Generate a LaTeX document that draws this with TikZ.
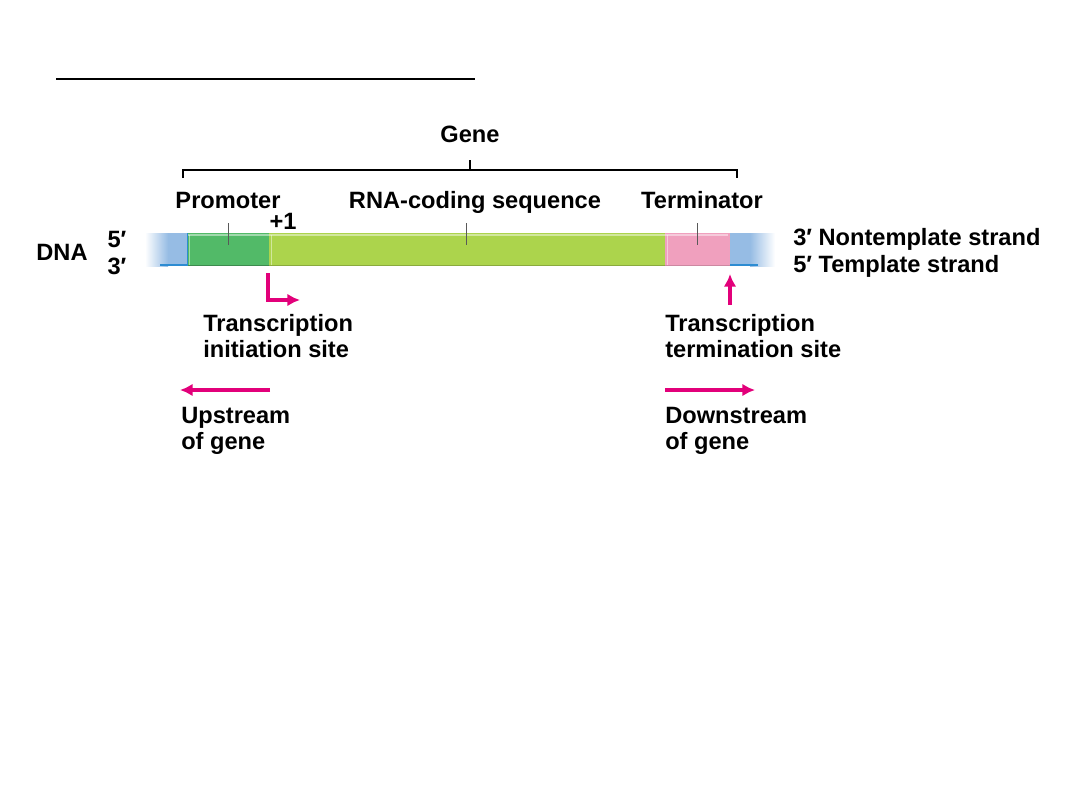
\documentclass[tikz,border=0pt]{standalone}
\usepackage{fontspec}
\setmainfont{Liberation Sans}
\usetikzlibrary{arrows.meta,positioning}

\definecolor{dnablue}{RGB}{150,188,228}
\definecolor{dnaline}{RGB}{45,140,210}
\definecolor{promgreen}{RGB}{82,186,104}
\definecolor{codegreen}{RGB}{172,212,76}
\definecolor{termpink}{RGB}{240,160,190}
\definecolor{sitepink}{RGB}{226,0,122}

\begin{document}
\begin{tikzpicture}[
        x=0.025cm, y=-0.025cm,
        lbl/.style={font=\bfseries\fontsize{16.8}{18.6}\selectfont, inner sep=0pt},
        tick/.style={draw=black!65, line width=0.7pt},
        bracket/.style={black, line width=0.8pt},
        pinkarrow/.style={sitepink, line width=2.6pt, -{Latex[length=9pt, width=9pt]}}
    ]
    \useasboundingbox (0,0) rectangle (1080,810);

    % ==========================================
    % TITLE RULE + GENE BRACKET
    % ==========================================
    \draw[black, line width=1.1pt] (56,79) -- (475,79);

    \node[lbl, anchor=base] (gene) at (470,142) {Gene};
    \coordinate (genetick) at (470,170);
    \draw[bracket] (183,178) -- (183,170) -- (737,170) -- (737,178);
    \draw[bracket] (genetick) -- ++(0,-10);

    % ==========================================
    % DNA BAR
    % ==========================================
    \shade[left color=white, right color=dnablue] (145,233) rectangle (168,266);
    \fill[dnablue] (167.5,233) rectangle (187,266);
    \fill[promgreen] (187,233) rectangle (269,266); % promoter
    \fill[codegreen] (269,233) rectangle (665,266); % RNA-coding
    \fill[termpink] (665,233) rectangle (730,266);  % terminator
    \fill[dnablue] (730,233) rectangle (750.5,266);
    \shade[left color=dnablue, right color=white] (750,233) rectangle (775,266);

    % highlights and edges
    \draw[white, opacity=0.45, line width=0.8pt] (188,235) -- (728,235);
    \draw[white, opacity=0.45, line width=0.6pt] (189,235) -- (189,265);
    \draw[white, opacity=0.45, line width=0.6pt] (271,235) -- (271,265);
    \draw[white, opacity=0.45, line width=0.6pt] (667,235) -- (667,265);
    \draw[promgreen!75!black, line width=0.6pt] (187,265.5) -- (269,265.5);
    \draw[codegreen!80!black, line width=0.6pt] (269,265.5) -- (665,265.5);
    \draw[termpink!85!black, line width=0.6pt] (665,265.5) -- (730,265.5);
    \draw[dnaline, line width=1pt] (160,265) -- (187,265);
    \draw[dnaline, line width=1pt] (730,265) -- (758,265);
    \draw[dnaline, line width=0.6pt] (187,233) -- (187,266);

    % segment labels
    \node[lbl, anchor=base] (promoter) at (228,208) {Promoter};
    \node[lbl, anchor=base] (plusone) at (283,229) {+1};
    \node[lbl, anchor=base] (coding) at (475,208) {RNA-coding sequence};
    \node[lbl, anchor=base] (terminator) at (702,208) {Terminator};
    \draw[tick] (228,223) -- (228,245);
    \draw[tick] (466,223) -- (466,245);
    \draw[tick] (697,223) -- (697,245);

    % strand labels
    \node[lbl, anchor=base] (dna) at (62,260) {DNA};
    \node[lbl, anchor=base] (five) at (117,247) {5′};
    \node[lbl, anchor=base] (three) at (117,274) {3′};
    \node[lbl, anchor=base west] (nontemp) at (793,245) {3′ Nontemplate strand};
    \node[lbl, anchor=base west] (temp) at (793,272) {5′ Template strand};

    % ==========================================
    % SITES
    % ==========================================
    \coordinate (initfoot) at (268,273);
    \coordinate (inittip) at (300,300);
    \draw[pinkarrow] (initfoot) |- (inittip);
    \node[lbl, anchor=north west, align=left] (initsite) at (203,314) {Transcription\\initiation site};

    \coordinate (termfoot) at (730,305);
    \coordinate (termtip) at (730,274);
    \draw[pinkarrow] (termfoot) -- (termtip);
    \node[lbl, anchor=north west, align=left] (termsite) at (665,314) {Transcription\\termination site};

    % ==========================================
    % UPSTREAM / DOWNSTREAM
    % ==========================================
    \coordinate (upfoot) at (270,390);
    \coordinate (uptip) at (180,390);
    \draw[pinkarrow] (upfoot) -- (uptip);
    \node[lbl, anchor=north west, align=left] (upstream) at (181,407) {Upstream\\of gene};

    \coordinate (downfoot) at (665,390);
    \coordinate (downtip) at (755,390);
    \draw[pinkarrow] (downfoot) -- (downtip);
    \node[lbl, anchor=north west, align=left] (downstream) at (665,407) {Downstream\\of gene};

\end{tikzpicture}
\end{document}
